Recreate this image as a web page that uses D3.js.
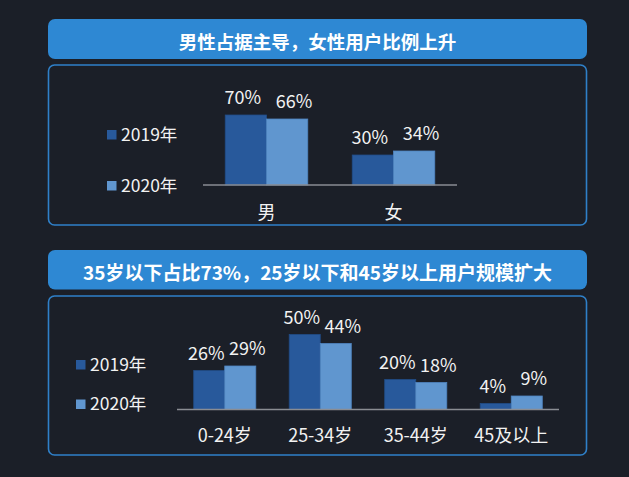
<!DOCTYPE html>
<html>
<head>
<meta charset="utf-8">
<script src="https://cdn.jsdelivr.net/npm/d3@7"></script>
<style>
  html, body { margin: 0; padding: 0; background: #1b1f28; }
  svg { display: block; }
</style>
</head>
<body>
<div id="chart"></div>
<script>
// datos
const seriesNames = ["2019年", "2020年"];
const genderTitle = "男性占据主导，女性用户比例上升";
const genderCats = ["男", "女"];
const gender2019 = [70, 30];
const gender2020 = [66, 34];

const ageTitle = "35岁以下占比73%，25岁以下和45岁以上用户规模扩大";
const ageCats = ["0-24岁", "25-34岁", "35-44岁", "45及以上"];
const age2019 = [26, 50, 20, 4];
const age2020 = [29, 44, 18, 9];

const width = 629, height = 477;
const font = "'Noto Sans CJK SC', 'Noto Sans', sans-serif";
const colors = ["#28599b", "#6096cf"];
const strokes = ["#214c86", "#4f84c0"];
const labelShift = [-3, 7];

const svg = d3.select("#chart").append("svg")
    .attr("width", width)
    .attr("height", height)
    .style("background", "#1b1f28");

// panel superior
drawPanel({
    title: genderTitle, titleY: 19, titleH: 40, titleSize: 18.5,
    boxY: 65, boxH: 160,
    cats: genderCats, values: [gender2019, gender2020],
    x0: 203, x1: 457, base: 185, pxPerPct: 1.0,
    legendX: 107, legendY: [130, 181],
    catY: 218.5
});

// panel inferior
drawPanel({
    title: ageTitle, titleY: 250, titleH: 39.5, titleSize: 19,
    boxY: 296, boxH: 159,
    cats: ageCats, values: [age2019, age2020],
    x0: 177, x1: 559, base: 409.5, pxPerPct: 1.5,
    legendX: 76, legendY: [360, 399.5],
    catY: 442
});

function drawPanel(p) {
    const left = 48, right = 587;
    // caja del título
    svg.append("rect")
        .attr("x", left).attr("y", p.titleY)
        .attr("width", right - left).attr("height", p.titleH)
        .attr("rx", 7)
        .attr("fill", "#2e88d3");
    svg.append("text")
        .attr("x", (left + right) / 2)
        .attr("y", p.titleY + p.titleH / 2 + 1.5)
        .attr("text-anchor", "middle")
        .attr("dominant-baseline", "central")
        .style("font-family", font)
        .style("font-weight", "bold")
        .style("font-size", p.titleSize + "px")
        .attr("fill", "#ffffff")
        .text(p.title);

    // caja del gráfico
    svg.append("rect")
        .attr("x", left + 0.5).attr("y", p.boxY)
        .attr("width", right - left - 1).attr("height", p.boxH)
        .attr("rx", 6)
        .attr("fill", "none")
        .attr("stroke", "#2f80c9")
        .attr("stroke-width", 1.6);

    const x = d3.scaleBand()
        .domain(p.cats)
        .range([p.x0, p.x1])
        .paddingInner(0.35)
        .paddingOuter(0.175);
    const xs = d3.scaleBand()
        .domain(seriesNames)
        .range([0, x.bandwidth()]);
    const y = d3.scaleLinear()
        .domain([0, 100])
        .range([p.base, p.base - 100 * p.pxPerPct]);

    const rows = [];
    p.cats.forEach((c, i) => {
        seriesNames.forEach((s, j) => {
            rows.push({ cat: c, series: s, j: j, value: p.values[j][i] });
        });
    });

    svg.append("g").selectAll("rect")
        .data(rows)
        .enter()
        .append("rect")
        .attr("x", d => x(d.cat) + xs(d.series))
        .attr("y", d => y(d.value))
        .attr("width", xs.bandwidth())
        .attr("height", d => y(0) - y(d.value))
        .attr("fill", d => colors[d.j])
        .attr("stroke", d => strokes[d.j])
        .attr("stroke-width", 0.8);

    // etiquetas de valor
    svg.append("g").selectAll("text")
        .data(rows)
        .enter()
        .append("text")
        .attr("x", d => x(d.cat) + xs(d.series) + xs.bandwidth() / 2 + labelShift[d.j])
        .attr("y", d => y(d.value) - 11)
        .attr("text-anchor", "middle")
        .style("font-family", font)
        .style("font-size", "18px")
        .attr("fill", "#f2f2f2")
        .text(d => d.value + "%");

    // eje x
    const axis = svg.append("g")
        .attr("transform", `translate(0,${p.base})`)
        .call(d3.axisBottom(x).tickSize(0).tickPadding(0));
    axis.select(".domain")
        .attr("d", `M${p.x0},0H${p.x1}`)
        .attr("stroke", "#8a8d93")
        .attr("stroke-width", 1.6);
    axis.selectAll(".tick text")
        .attr("y", p.catY - p.base)
        .attr("dy", 0)
        .style("font-family", font)
        .style("font-size", "18px")
        .attr("fill", "#f2f2f2");

    // leyenda
    seriesNames.forEach((s, j) => {
        svg.append("rect")
            .attr("x", p.legendX).attr("y", p.legendY[j])
            .attr("width", 9.5).attr("height", 9.5)
            .attr("fill", colors[j]);
        svg.append("text")
            .attr("x", p.legendX + 14)
            .attr("y", p.legendY[j] + 10.5)
            .style("font-family", font)
            .style("font-size", "17.5px")
            .attr("fill", "#f2f2f2")
            .text(s);
    });
}
</script>
</body>
</html>
